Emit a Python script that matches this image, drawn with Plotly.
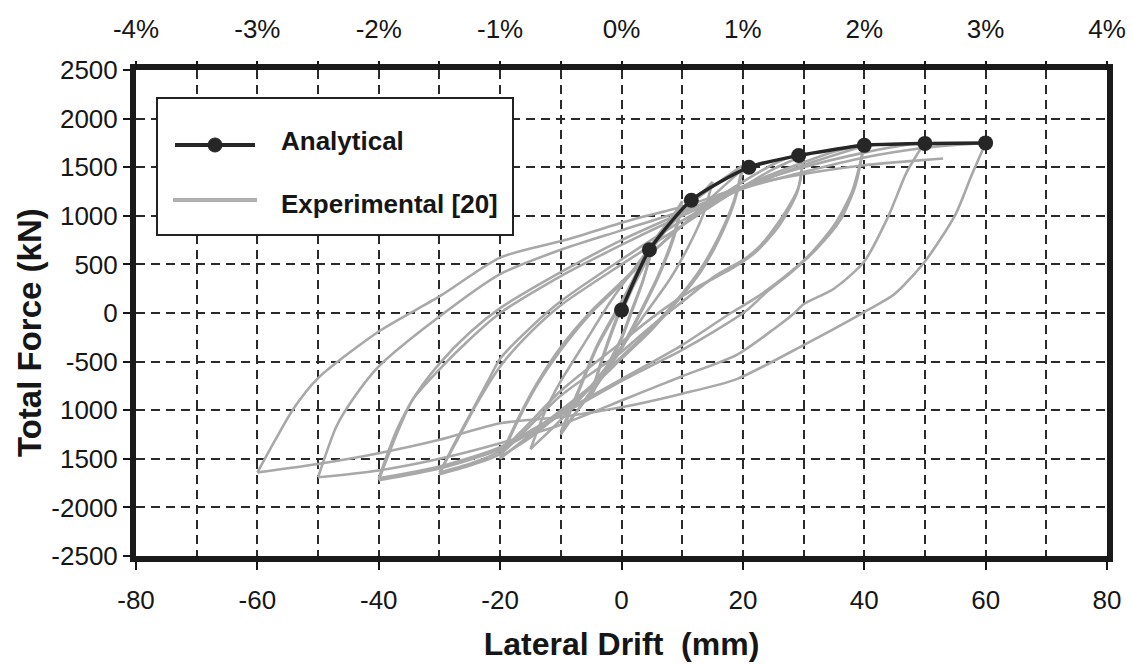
import plotly.graph_objects as go

FONT = "Arial, 'Liberation Sans', Helvetica, sans-serif"
INK = "#161616"

# ---------------- axis tick labels ----------------
pct_ticks = [-4, -3, -2, -1, 0, 1, 2, 3, 4]
pct_labels = ["-4%", "-3%", "-2%", "-1%", "0%", "1%", "2%", "3%", "4%"]
drift_ticks = [-80, -60, -40, -20, 0, 20, 40, 60, 80]
drift_labels = ["-80", "-60", "-40", "-20", "0", "20", "40", "60", "80"]
force_ticks = [2500, 2000, 1500, 1000, 500, 0, -500, -1000, -1500, -2000, -2500]
force_labels = ["2500", "2000", "1500", "1000", "500", "0", "-500", "1000", "1500", "-2000", "-2500"]

# ---------------- Analytical ----------------
ana_drift = [0, 4.6, 11.5, 21, 29.2, 40, 50, 60]
ana_force = [30, 650, 1160, 1500, 1620, 1725, 1745, 1750]

# ---------------- Experimental [20] : digitised half-cycles (mm, kN) ----------------
hc01_drift = [0, 2, 4, 5]
hc01_force = [0, 280, 520, 640]
hc02_drift = [5, 3.5, 1.5, 0, -2.5, -5]
hc02_force = [640, 330, 0, -250, -560, -850]
hc03_drift = [-5, -3, 0, 3, 5]
hc03_force = [-850, -450, 50, 430, 660]
hc04_drift = [5, 3.5, 1.5, 0, -2.5, -5]
hc04_force = [660, 320, -20, -270, -580, -830]
hc05_drift = [-5, -3, 0, 3, 6, 8.5, 10]
hc05_force = [-830, -430, 80, 480, 800, 1000, 1150]
hc06_drift = [10, 8.5, 6, 3, 0, -5, -10]
hc06_force = [1150, 780, 380, 0, -350, -800, -1250]
hc07_drift = [-10, -7, -4, 0, 4, 7, 10]
hc07_force = [-1250, -800, -350, 100, 580, 870, 1100]
hc08_drift = [10, 8.5, 6, 3, 0, -5, -10]
hc08_force = [1100, 750, 360, -20, -370, -820, -1220]
hc09_drift = [-10, -7, -4, 0, 4, 8, 12, 15]
hc09_force = [-1220, -780, -330, 120, 560, 900, 1150, 1350]
hc10_drift = [15, 13.5, 11, 8, 4, 0, -5, -10, -15]
hc10_force = [1350, 1020, 680, 350, 0, -350, -750, -1100, -1400]
hc11_drift = [-15, -12.5, -10, -6, -2, 2, 6, 10, 15, 20]
hc11_force = [-1400, -1000, -700, -300, 100, 450, 780, 1050, 1300, 1520]
hc12_drift = [20, 18.5, 16, 13, 10, 5, 0, -5, -10, -15, -20]
hc12_force = [1520, 1150, 780, 450, 200, -150, -450, -750, -1000, -1250, -1500]
hc13_drift = [-20, -17, -14, -10, -5, 0, 5, 10, 15, 20]
hc13_force = [-1500, -1100, -750, -380, 0, 300, 620, 900, 1200, 1480]
hc14_drift = [20, 18.5, 16, 13, 10, 5, 0, -5, -10, -15, -20]
hc14_force = [1480, 1120, 750, 420, 180, -170, -470, -770, -1030, -1280, -1480]
hc15_drift = [-20, -17, -14, -10, -5, 0, 5, 10, 15, 20, 25, 30]
hc15_force = [-1480, -1080, -730, -350, 20, 320, 620, 900, 1150, 1350, 1530, 1660]
hc16_drift = [30, 29.2, 26.5, 23, 20.4, 15.4, 10.5, 5, 0, -10, -20, -25, -30]
hc16_force = [1660, 1300, 990, 700, 560, 380, 140, -130, -400, -850, -1450, -1570, -1660]
hc17_drift = [-30, -28, -25, -22, -20, -15, -10, 0, 10, 20, 25, 30]
hc17_force = [-1660, -1400, -1050, -700, -470, -150, 120, 550, 950, 1300, 1480, 1620]
hc18_drift = [30, 29, 26, 22, 18, 12, 5, 0, -10, -20, -25, -30]
hc18_force = [1620, 1250, 900, 620, 450, 250, -50, -300, -800, -1420, -1550, -1640]
hc19_drift = [-30, -27, -24, -20, -15, -10, 0, 10, 20, 30, 35, 40]
hc19_force = [-1640, -1300, -950, -550, -200, 80, 500, 900, 1300, 1550, 1660, 1740]
hc20_drift = [40, 38.5, 36, 32, 28, 24, 20.5, 15, 10, 0, -10, -20, -30, -40]
hc20_force = [1740, 1300, 950, 650, 420, 220, 20, -200, -380, -700, -1050, -1400, -1600, -1720]
hc21_drift = [-40, -37, -34.4, -30, -25, -20, -10, 0, 10, 20, 30, 40]
hc21_force = [-1720, -1240, -890, -580, -270, 0, 380, 700, 1000, 1280, 1520, 1720]
hc22_drift = [40, 38, 35, 31, 27, 22, 18, 10, 0, -10, -20, -30, -40]
hc22_force = [1720, 1250, 900, 600, 380, 150, 0, -330, -680, -1030, -1380, -1580, -1700]
hc23_drift = [-40, -37, -34, -30, -25, -20, -10, 0, 10, 20, 30, 40, 45, 50]
hc23_force = [-1700, -1200, -850, -520, -200, 50, 420, 750, 1030, 1300, 1500, 1650, 1710, 1760]
hc24_drift = [50, 47, 44, 40, 35, 30, 28.5, 25, 19, 10, 0, -10, -20, -30, -40, -50]
hc24_force = [1760, 1450, 1000, 530, 250, 90, 0, -170, -430, -650, -900, -1150, -1340, -1500, -1620, -1690]
hc25_drift = [-50, -47, -44.3, -40, -30.7, -20, -10, 0, 10, 20, 30, 40, 50, 55, 60]
hc25_force = [-1690, -1170, -890, -550, -70, 400, 650, 850, 1050, 1280, 1450, 1600, 1700, 1730, 1750]
hc26_drift = [60, 57.7, 55, 50, 45, 40, 30, 19, 10, 0, -10, -20, -30, -40, -50, -60]
hc26_force = [1750, 1420, 1010, 530, 195, 10, -330, -680, -830, -970, -1070, -1134, -1305, -1443, -1553, -1640]
hc27_drift = [-60, -57, -54, -50, -40, -30, -20, -9.3, 1.7, 10.5, 20, 30, 40, 47, 53]
hc27_force = [-1640, -1300, -980, -670, -190, 170, 570, 750, 960, 1100, 1300, 1430, 1520, 1560, 1590]

halfcycles = [
    (hc01_drift, hc01_force), (hc02_drift, hc02_force), (hc03_drift, hc03_force),
    (hc04_drift, hc04_force), (hc05_drift, hc05_force), (hc06_drift, hc06_force),
    (hc07_drift, hc07_force), (hc08_drift, hc08_force), (hc09_drift, hc09_force),
    (hc10_drift, hc10_force), (hc11_drift, hc11_force), (hc12_drift, hc12_force),
    (hc13_drift, hc13_force), (hc14_drift, hc14_force), (hc15_drift, hc15_force),
    (hc16_drift, hc16_force), (hc17_drift, hc17_force), (hc18_drift, hc18_force),
    (hc19_drift, hc19_force), (hc20_drift, hc20_force), (hc21_drift, hc21_force),
    (hc22_drift, hc22_force), (hc23_drift, hc23_force), (hc24_drift, hc24_force),
    (hc25_drift, hc25_force), (hc26_drift, hc26_force), (hc27_drift, hc27_force),
]

exp_x, exp_y = [], []
for dx, fy in halfcycles:
    exp_x += list(dx) + [None]
    exp_y += list(fy) + [None]

fig = go.Figure()
fig.add_trace(go.Scatter(
    x=exp_x, y=exp_y, mode="lines", name="Experimental [20]",
    line=dict(color="#a8a8a8", width=2.6, shape="spline", smoothing=0.7),
    connectgaps=False, showlegend=False, hoverinfo="skip",
))
fig.add_trace(go.Scatter(
    x=ana_drift, y=ana_force, mode="lines+markers", name="Analytical",
    line=dict(color="#262626", width=3.5, shape="spline", smoothing=0.6),
    marker=dict(color="#262626", size=15, symbol="circle"),
    showlegend=False,
))

# ---------------- layout geometry ----------------
W, H = 1133, 665
L, R, T, B = 136, 26, 70, 109
PW, PH = W - L - R, H - T - B


def px(xp):
    return (xp - L) / PW


def py(yp):
    return (H - B - yp) / PH


GRIDC = "#2a2a2a"
grid = dict(showgrid=True, gridcolor=GRIDC, gridwidth=2.2, griddash="9px,6px")

fig.update_layout(
    width=W, height=H,
    margin=dict(l=L, r=R, t=T, b=B, pad=0, autoexpand=False),
    paper_bgcolor="white", plot_bgcolor="white",
    font=dict(family=FONT, color=INK),
    showlegend=False,
    xaxis=dict(
        range=[-80, 80], tickmode="array", tickvals=drift_ticks, ticktext=drift_labels,
        ticks="outside", ticklen=8, tickwidth=2, tickcolor=INK, ticklabelstandoff=8,
        tickfont=dict(size=26, family=FONT, color=INK),
        minor=dict(tickmode="linear", tick0=0, dtick=10, showgrid=True,
                   gridcolor=GRIDC, gridwidth=2.2, griddash="9px,6px", ticks=""),
        showline=True, linewidth=6, linecolor="#1a1a1a", mirror=True,
        zeroline=False, automargin=False,
        title=dict(text="Lateral Drift\u00a0 (mm)", standoff=20,
                   font=dict(size=32, family=FONT, color=INK, weight="bold")),
        **grid,
    ),
    xaxis2=dict(
        overlaying="x", side="top", anchor="y", range=[-4, 4],
        tickmode="array", tickvals=pct_ticks, ticktext=pct_labels,
        ticks="outside", ticklen=8, tickwidth=2, tickcolor=INK, ticklabelstandoff=13,
        minor=dict(tickmode="linear", tick0=0, dtick=0.5, ticks="outside",
                   ticklen=8, tickwidth=2, tickcolor=INK),
        tickfont=dict(size=26, family=FONT, color=INK),
        showgrid=False, showline=False, zeroline=False, automargin=False,
    ),
    yaxis=dict(
        range=[-2500, 2500], tickmode="array", tickvals=force_ticks, ticktext=force_labels,
        ticks="outside", ticklen=7, tickwidth=2, tickcolor=INK,
        tickfont=dict(size=26, family=FONT, color=INK),
        showline=True, linewidth=6, linecolor="#1a1a1a", mirror=True,
        zeroline=False, automargin=False,
        **grid,
    ),
)

# make the top axis render
fig.add_trace(go.Scatter(x=[None], y=[None], xaxis="x2", showlegend=False, hoverinfo="skip"))

# y-axis title
fig.add_annotation(xref="paper", yref="paper", x=px(29), y=py(333),
                   xanchor="center", yanchor="middle", showarrow=False, textangle=-90,
                   text="Total Force (kN)",
                   font=dict(size=33, family=FONT, color=INK, weight="bold"))

# ---------------- legend (drawn box) ----------------
fig.add_shape(type="rect", xref="paper", yref="paper",
              x0=px(157), x1=px(513), y0=py(235), y1=py(98),
              line=dict(color="#222222", width=2), fillcolor="white", layer="above")
fig.add_shape(type="line", xref="paper", yref="paper",
              x0=px(175), x1=px(255), y0=py(145), y1=py(145),
              line=dict(color="#262626", width=4), layer="above")
fig.add_shape(type="circle", xref="paper", yref="paper",
              x0=px(208), x1=px(222), y0=py(152), y1=py(138),
              line=dict(color="#262626", width=1), fillcolor="#262626", layer="above")
fig.add_shape(type="line", xref="paper", yref="paper",
              x0=px(173), x1=px(257), y0=py(200), y1=py(200),
              line=dict(color="#b0b0b0", width=4), layer="above")
fig.add_annotation(xref="paper", yref="paper", x=px(279), y=py(141),
                   xanchor="left", yanchor="middle", showarrow=False,
                   text="Analytical", font=dict(size=26, family=FONT, color=INK, weight="bold"))
fig.add_annotation(xref="paper", yref="paper", x=px(279), y=py(204),
                   xanchor="left", yanchor="middle", showarrow=False,
                   text="Experimental [20]", font=dict(size=26, family=FONT, color=INK, weight="bold"))

fig.write_html("out.html")
